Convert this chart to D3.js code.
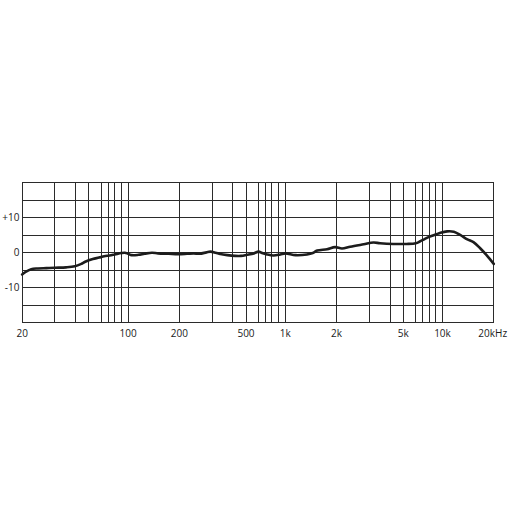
<!DOCTYPE html>
<html>
<head>
<meta charset="utf-8">
<script src="https://cdn.jsdelivr.net/npm/d3@7"></script>
<style>
  html, body { margin: 0; padding: 0; background: #fff; }
  svg { display: block; }
  text { font-family: "Open Sans", "DejaVu Sans", sans-serif; font-size: 10px; fill: #1a1a1a; }
</style>
</head>
<body>
<svg id="chart" width="512" height="512"></svg>
<script>
// ---- data ----
const freqs = [20, 21, 22.4, 24.3, 27, 30, 35, 39.5, 44, 47, 53, 58, 64, 72, 80, 90, 95, 100, 105, 115, 125, 138, 150, 173, 197,
  220, 239, 257, 280, 294, 315, 336, 370, 416, 460, 507, 560, 600, 650, 723, 823, 925, 1000, 1150, 1340, 1450, 1540, 1760, 1960,
  2140, 2370, 2800, 3180, 3480, 4230, 5250, 6000, 6580, 7300, 8100, 9000, 9700, 10650, 11650, 12700, 14000, 15200, 16700, 18300, 20000];
const levels = [-6.2, -5.4, -4.7, -4.5, -4.4, -4.3, -4.2, -3.9, -3.2, -2.6, -1.8, -1.4, -1.0, -0.8, -0.5, -0.1, 0.0, -0.3, -0.7, -0.6, -0.3, 0.0, -0.2, -0.3, -0.4,
  -0.3, -0.2, -0.3, 0.1, 0.3, 0.0, -0.4, -0.7, -0.9, -0.9, -0.6, -0.2, 0.3, -0.1, -0.5, -0.8, -0.5, -0.2, -0.7, -0.5, -0.1, 0.6, 1.0, 1.6,
  1.2, 1.7, 2.4, 2.9, 2.7, 2.5, 2.5, 2.7, 3.2, 3.9, 4.6, 5.2, 5.7, 6.1, 6.0, 5.1, 3.8, 3.0, 1.2, -0.9, -3.2];
const xTickValues = [20, 100, 200, 500, 1000, 2000, 5000, 10000, 20000];
const xTickLabels = ["20", "100", "200", "500", "1k", "2k", "5k", "10k", "20kHz"];
const yTickValues = [-10, 0, 10];
const yTickLabels = ["-10", "0", "+10"];
const yGridValues = [-20, -15, -10, -5, 0, 5, 10, 15, 20];

// ---- layout ----
const svg = d3.select("#chart");
svg.append("rect").attr("width", 512).attr("height", 512).attr("fill", "#fff");

// grid frequencies: 1..9 multiples per decade within [20, 20000]
const gridFreqs = [];
[10, 100, 1000, 10000].forEach(d => {
  for (let m = 1; m <= 9; m++) {
    const f = d * m;
    if (f >= 20 && f <= 20000) gridFreqs.push(f);
  }
});
// position of each multiple within its decade as printed on the chart paper
const warp = [0, 0.326, 0.534, 0.667, 0.75, 0.83, 0.873, 0.915, 0.957];
const decadeW = 157.2, origin10 = -29.1;
const knotPos = gridFreqs.map(f => {
  const dec = Math.floor(Math.log10(f) + 1e-9);
  const m = Math.round(f / Math.pow(10, dec));
  return origin10 + decadeW * ((dec - 1) + warp[m - 1]);
});
const x = d3.scaleLog().domain(gridFreqs).range(knotPos);
const y = d3.scaleLinear().domain([-20, 20]).range([322.7, 182.7]);

const grid = svg.append("g").attr("stroke", "#2b2b2b").attr("stroke-width", 1).attr("shape-rendering", "crispEdges");
grid.selectAll("line.v").data(gridFreqs).join("line")
  .attr("class", "v")
  .attr("x1", d => x(d)).attr("x2", d => x(d))
  .attr("y1", y(20)).attr("y2", y(-20));
grid.selectAll("line.h").data(yGridValues).join("line")
  .attr("class", "h")
  .attr("x1", x(20)).attr("x2", x(20000))
  .attr("y1", d => y(d)).attr("y2", d => y(d));

// x labels
svg.append("g").selectAll("text").data(xTickValues).join("text")
  .attr("x", (d, i) => x(d) + (i === xTickLabels.length - 1 ? -1 : 0))
  .attr("y", 336.5)
  .attr("text-anchor", "middle")
  .text((d, i) => xTickLabels[i]);

// y labels
svg.append("g").selectAll("text").data(yTickValues).join("text")
  .attr("x", 19.5)
  .attr("y", d => y(d) + 3.6)
  .attr("text-anchor", "end")
  .text((d, i) => yTickLabels[i]);

// response curve
const pts = freqs.map((f, i) => [f, levels[i]]);
const line = d3.line().x(d => x(d[0])).y(d => y(d[1])).curve(d3.curveCatmullRom.alpha(0.5));
svg.append("path").datum(pts)
  .attr("d", line)
  .attr("fill", "none")
  .attr("stroke", "#1c1c1c")
  .attr("stroke-width", 2.6)
  .attr("stroke-linejoin", "round")
  .attr("stroke-linecap", "round");
</script>
</body>
</html>
